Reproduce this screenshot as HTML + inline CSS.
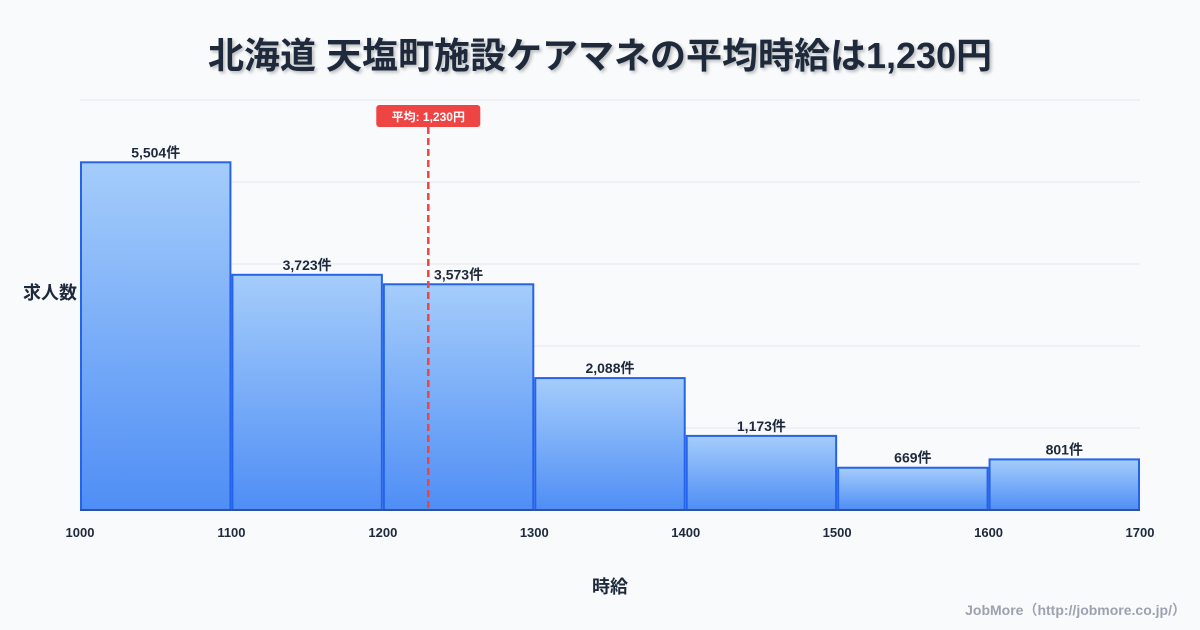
<!DOCTYPE html>
<html><head><meta charset="utf-8"><style>
body{margin:0;width:1200px;height:630px;background:#f8fafc;font-family:"Liberation Sans","Noto Sans CJK JP",sans-serif;overflow:hidden;position:relative}
#title{position:absolute;top:27px;left:0;width:1200px;text-align:center;font-size:36px;font-weight:bold;color:#1e293b;text-shadow:2px 2px 3px rgba(0,0,0,0.25)}
#credit{position:absolute;right:14px;bottom:10px;font-size:14px;font-weight:bold;color:#9ca3af}
svg{position:absolute;left:0;top:0}
</style></head><body>
<div id="title">北海道 天塩町施設ケアマネの平均時給は1,230円</div>
<div id="credit">JobMore（http://jobmore.co.jp/）</div>
<svg id="c" width="1200" height="630">
<defs><linearGradient id="g" x1="0" y1="0" x2="0" y2="1"><stop offset="0" stop-color="#a5cdfb"/><stop offset="1" stop-color="#4f8ef5"/></linearGradient></defs>
</svg>
<script>
const binStarts=[1000,1100,1200,1300,1400,1500,1600];
const counts=[5504,3723,3573,2088,1173,669,801];
const labels=["5,504件","3,723件","3,573件","2,088件","1,173件","669件","801件"];
const xTicks=[1000,1100,1200,1300,1400,1500,1600,1700];
const avg=1230;
const yMax=6490;
const ns="http://www.w3.org/2000/svg",svg=document.getElementById('c');
const X=v=>80+(v-1000)*1060/700, Y=v=>510-v*410/yMax;
function mk(t,a,txt){const e=document.createElementNS(ns,t);for(const k in a)e.setAttribute(k,a[k]);if(txt!=null)e.textContent=txt;svg.appendChild(e);return e;}
for(let i=0;i<=5;i++){const g=mk('line',{x1:80,x2:1140,y1:510-i*82,y2:510-i*82,stroke:'#e2e8f0','stroke-width':1});

}
binStarts.forEach((b,i)=>{
const r=mk('rect',{x:X(b)+1,y:Y(counts[i]),width:X(b+100)-X(b)-2,height:510-Y(counts[i]),fill:'url(#g)',stroke:'#2563eb','stroke-width':2});


const t=mk('text',{x:(X(b)+X(b+100))/2,y:Y(counts[i])-5,'text-anchor':'middle','font-size':14,'font-weight':'bold',fill:'#1e293b'},labels[i]);


});
const ax=mk('line',{x1:80,x2:1140,y1:510,y2:510,stroke:'#334155','stroke-width':1});


xTicks.forEach(v=>{const t=mk('text',{x:X(v),y:537,'text-anchor':'middle','font-size':13,'font-weight':'bold',fill:'#1e293b'},v);

});
const al=mk('line',{x1:X(avg),x2:X(avg),y1:127,y2:510,stroke:'#ef4444','stroke-width':2.5,'stroke-dasharray':'7,4'});


const ab=mk('rect',{x:X(avg)-52,y:105,width:104,height:22,rx:3,fill:'#ef4444'});


const at=mk('text',{x:X(avg),y:121,'text-anchor':'middle','font-size':12,'font-weight':'bold',fill:'#fff'},'平均: 1,230円');


const yt=mk('text',{x:50,y:299,'text-anchor':'middle','font-size':18,'font-weight':'bold',fill:'#1e293b'},'求人数');


const xt=mk('text',{x:610,y:593,'text-anchor':'middle','font-size':18,'font-weight':'bold',fill:'#1e293b'},'時給');


</script>
</body></html>
